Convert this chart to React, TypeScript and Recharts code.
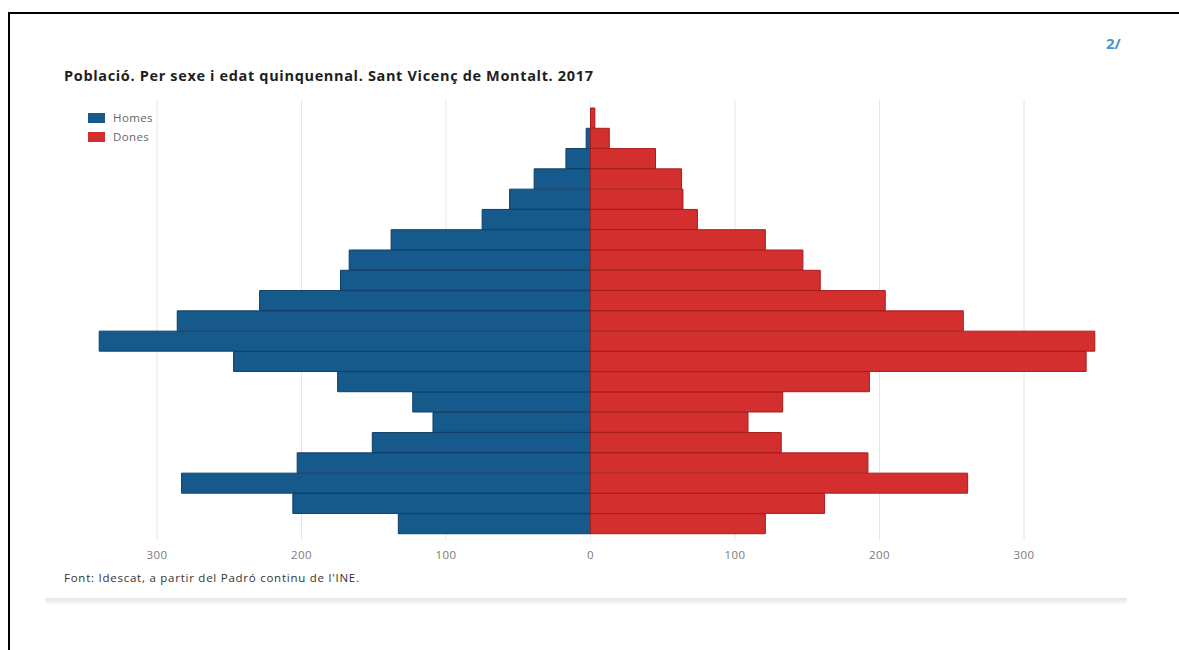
import { BarChart, Bar, XAxis, YAxis, CartesianGrid } from "recharts";

// age groups, youngest first
const ages = [
  "0-4", "5-9", "10-14", "15-19", "20-24", "25-29", "30-34",
  "35-39", "40-44", "45-49", "50-54", "55-59", "60-64", "65-69",
  "70-74", "75-79", "80-84", "85-89", "90-94", "95-99", "100+",
];
const homes = [133, 206, 283, 203, 151, 109, 123, 175, 247, 340, 286, 229, 173, 167, 138, 75, 56, 39, 17, 3, 0];
const dones = [121, 162, 261, 192, 132, 109, 133, 193, 343, 349, 258, 204, 159, 147, 121, 74, 64, 63, 45, 13, 3];
const xTicks = [-300, -200, -100, 0, 100, 200, 300];

const BLUE = "#165a8c";
const RED = "#d32f2f";
const FONT = "'Open Sans', sans-serif";

const data = ages.map((age, i) => ({
  age,
  homes: -homes[i],
  dones: dones[i],
}));

export default function App() {
  return (
    <div style={{ position: "relative", width: 1179, height: 650, overflow: "hidden", background: "#fff", fontFamily: FONT }}>
      <style>{`html,body{margin:0;overflow:hidden}`}</style>
      {/* frame: top and left edges only */}
      <div style={{ position: "absolute", left: 8, top: 12, width: 1400, height: 800, borderTop: "2px solid #000", borderLeft: "2px solid #000" }} />
      <div style={{ position: "absolute", left: 1106, top: 33, fontSize: 15, fontWeight: 700, color: "#4a93c8" }}>2/</div>
      <div style={{ position: "absolute", left: 64, top: 66, fontSize: 14.5, fontWeight: 700, color: "#1e1e1e", letterSpacing: 0.65 }}>
        Població. Per sexe i edat quinquennal. Sant Vicenç de Montalt. 2017
      </div>

      {/* legend */}
      <div style={{ position: "absolute", left: 88, top: 108, fontSize: 11.5, color: "#666", letterSpacing: 0.4 }}>
        <div style={{ display: "flex", alignItems: "center", height: 19 }}>
          <span style={{ width: 17, height: 10, background: BLUE, marginRight: 8 }} />Homes
        </div>
        <div style={{ display: "flex", alignItems: "center", height: 19 }}>
          <span style={{ width: 17, height: 10, background: RED, marginRight: 8 }} />Dones
        </div>
      </div>

      <div style={{ position: "absolute", left: 0, top: 0 }}>
        <BarChart
          width={1179}
          height={650}
          data={data}
          layout="vertical"
          stackOffset="sign"
          barCategoryGap={0}
          margin={{ top: 100, right: 82.75, bottom: 80, left: 84.75 }}
        >
          <CartesianGrid horizontal={false} stroke="#e6e6e6" syncWithTicks />
          <XAxis
            type="number"
            domain={[-350, 350]}
            ticks={xTicks}
            tickFormatter={(v: number) => String(Math.abs(v))}
            axisLine={false}
            tickLine={false}
            tickMargin={5}
            tick={{ fontSize: 11.5, fill: "#7a7a7a", fontFamily: FONT, letterSpacing: 0.5 }}
          />
          <YAxis type="category" dataKey="age" reversed hide padding={{ top: 8, bottom: 6 }} />
          <Bar dataKey="homes" stackId="p" fill={BLUE} stroke="#0e3e66" strokeWidth={1} isAnimationActive={false} />
          <Bar dataKey="dones" stackId="p" fill={RED} stroke="#a91c1c" strokeWidth={1} isAnimationActive={false} />
        </BarChart>
      </div>

      <div style={{ position: "absolute", left: 64, top: 570, fontSize: 11.5, color: "#333", letterSpacing: 0.75 }}>
        Font: Idescat, a partir del Padró continu de l'INE.
      </div>
      <div style={{ position: "absolute", left: 45, top: 598, width: 1082, height: 6, background: "linear-gradient(#e4e4e4, #fafafa)" }} />
    </div>
  );
}
